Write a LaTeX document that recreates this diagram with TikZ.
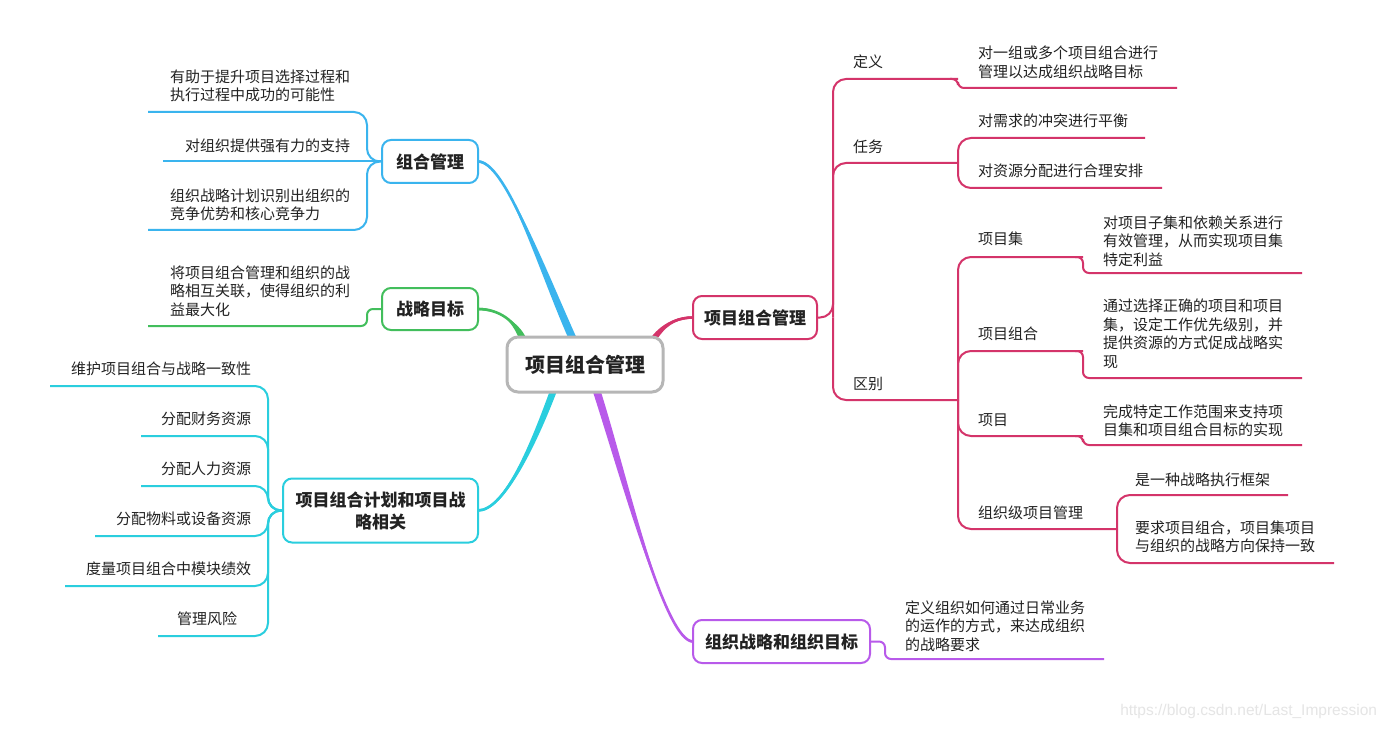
\documentclass[tikz,border=0pt]{standalone}
\usepackage{fontspec}
\setmainfont{Noto Sans CJK SC}
\newfontfamily\wmfont{Liberation Sans}
\usetikzlibrary{calc,backgrounds}
\definecolor{cblue}{RGB}{58,180,238}
\definecolor{cgreen}{RGB}{66,190,92}
\definecolor{ccyan}{RGB}{42,206,222}
\definecolor{cpurple}{RGB}{184,90,234}
\definecolor{cred}{RGB}{212,52,106}
\definecolor{cgray}{RGB}{182,182,182}
\definecolor{ctext}{RGB}{34,34,34}
\newcommand\taper[6]{%
\fill[#1] ($(#2)+(-#6,0)$) .. controls ($(#3)+(-#6*0.9,0)$) and ($(#4)+(0,-1.6)$) .. ($(#5)+(0,-1.2)$) -- ($(#5)+(0,1.2)$) .. controls ($(#4)+(0,1.6)$) and ($(#3)+(#6*0.9,0)$) .. ($(#2)+(#6,0)$) -- cycle;
\draw[#1, line width=2.6pt] (#2) .. controls (#3) and (#4) .. (#5);}
\begin{document}
\begin{tikzpicture}[x=1pt,y=-1pt,
 every node/.style={inner sep=0pt, outer sep=0pt},
 topic/.style={draw, line width=2pt, rounded corners=9pt, fill=white, text=ctext, font=\fontsize{17}{22}\selectfont\bfseries, align=center},
 leaf/.style={font=\fontsize{15}{18.5}\selectfont, align=left, text=ctext},
 lf/.style={line width=2pt, rounded corners=13pt},
 jog/.style={line width=2pt, rounded corners=6pt},
]
\useasboundingbox (0,0) rectangle (1384,730);

% central and main topics
\node[topic, draw=cgray, line width=3pt, rounded corners=11pt, minimum width=156pt, minimum height=55pt, font=\fontsize{20}{24}\selectfont\bfseries] (c) at (585,364.5) {项目组合管理};
\node[topic, draw=cblue, minimum width=96pt, minimum height=43pt] (zh) at (430,161.5) {组合管理};
\node[topic, draw=cgreen, minimum width=96pt, minimum height=42pt] (zl) at (430,309) {战略目标};
\node[topic, draw=ccyan, minimum width=195pt, minimum height=64pt] (zx) at (380.5,510.5) {项目组合计划和项目战\\略相关};
\node[topic, draw=cred, minimum width=124pt, minimum height=43pt] (xm) at (755,317.5) {项目组合管理};
\node[topic, draw=cpurple, minimum width=177pt, minimum height=43pt] (zo) at (781.5,641.5) {组织战略和组织目标};

% leaf texts, left
\node[leaf, anchor=east] (a1t) at (350,86) {有助于提升项目选择过程和\\执行过程中成功的可能性};
\node[leaf, anchor=east] (a2t) at (350,146) {对组织提供强有力的支持};
\node[leaf, anchor=east] (a3t) at (350,205) {组织战略计划识别出组织的\\竞争优势和核心竞争力};
\node[leaf, anchor=east] (b1t) at (350,291) {将项目组合管理和组织的战\\略相互关联，使得组织的利\\益最大化};
\node[leaf, anchor=east] (c1t) at (251,369) {维护项目组合与战略一致性};
\node[leaf, anchor=east] (c2t) at (251,419) {分配财务资源};
\node[leaf, anchor=east] (c3t) at (251,469) {分配人力资源};
\node[leaf, anchor=east] (c4t) at (251,519) {分配物料或设备资源};
\node[leaf, anchor=east] (c5t) at (251,569) {度量项目组合中模块绩效};
\node[leaf, anchor=east] (c6t) at (237,619) {管理风险};

% leaf texts, right
\node[leaf, anchor=west] (t1t) at (853,62) {定义};
\node[leaf, anchor=west] (t2t) at (853,147) {任务};
\node[leaf, anchor=west] (t3t) at (853,384) {区别};
\node[leaf, anchor=west] (t1c) at (978,62.5) {对一组或多个项目组合进行\\管理以达成组织战略目标};
\node[leaf, anchor=west] (t2a) at (978,121) {对需求的冲突进行平衡};
\node[leaf, anchor=west] (t2b) at (978,171) {对资源分配进行合理安排};
\node[leaf, anchor=west] (u1t) at (978,239) {项目集};
\node[leaf, anchor=west] (u2t) at (978,334) {项目组合};
\node[leaf, anchor=west] (u3t) at (978,420) {项目};
\node[leaf, anchor=west] (u4t) at (978,513) {组织级项目管理};
\node[leaf, anchor=west] (u1c) at (1103,241) {对项目子集和依赖关系进行\\有效管理，从而实现项目集\\特定利益};
\node[leaf, anchor=west] (u2c) at (1103,334) {通过选择正确的项目和项目\\集，设定工作优先级别，并\\提供资源的方式促成战略实\\现};
\node[leaf, anchor=west] (u3c) at (1103,421) {完成特定工作范围来支持项\\目集和项目组合目标的实现};
\node[leaf, anchor=west] (u4a) at (1135,480) {是一种战略执行框架};
\node[leaf, anchor=west] (u4b) at (1135,537) {要求项目组合，项目集项目\\与组织的战略方向保持一致};
\node[leaf, anchor=west] (p1t) at (905,626) {定义组织如何通过日常业务\\的运作的方式，来达成组织\\的战略要求};

\node[font=\wmfont\fontsize{15.5}{18}\selectfont, text=black!10, anchor=east] (wm) at (1377,711) {https://blog.csdn.net/Last\_Impression};

% coordinates
\coordinate (cb) at ($(c.north)+(-13,0)$);
\coordinate (cg) at ($(c.north)+(-63,0)$);
\coordinate (cc) at ($(c.south)+(-32,0)$);
\coordinate (cp) at ($(c.south)+(12,0)$);
\coordinate (cr) at ($(c.north)+(70,0)$);
\coordinate (a1) at (148,112);
\coordinate (a2) at (163,161.5);
\coordinate (a3) at (148,230);
\coordinate (b1) at (148,326);
\coordinate (c1) at (50,386);
\coordinate (c2) at (141,436);
\coordinate (c3) at (141,486);
\coordinate (c4) at (95,536);
\coordinate (c5) at (65,586);
\coordinate (c6) at (158,636);
\coordinate (rb) at (833,317.5);
\coordinate (t1) at (958,79);
\coordinate (t1e) at (1177,88);
\coordinate (t2) at (958,163);
\coordinate (t2ae) at (1145,138);
\coordinate (t2be) at (1162,188);
\coordinate (t3) at (958,400);
\coordinate (u1) at (1083,257);
\coordinate (u1e) at (1302,273);
\coordinate (u2) at (1083,351);
\coordinate (u2e) at (1302,378);
\coordinate (u3) at (1083,436);
\coordinate (u3e) at (1302,445);
\coordinate (u4) at (1117,529);
\coordinate (u4ae) at (1288,495);
\coordinate (u4be) at (1334,563);
\coordinate (p1) at (885,641.5);
\coordinate (p1e) at (1104,659);

\begin{pgfonlayer}{background}
\fill[white] (0,0) rectangle (1384,730);
% tapered main branches
\taper{cblue}{cb}{540,265}{505,161.5}{zh.east}{4.2}
\taper{cgreen}{cg}{515,322}{500,309}{zl.east}{3.6}
\taper{ccyan}{cc}{535,440}{505,510.5}{zx.east}{3.6}
\taper{cpurple}{cp}{625,480}{665,641.5}{zo.west}{4}
\taper{cred}{cr}{666,322}{680,317.5}{xm.west}{3.6}

% blue leaves
\draw[lf,cblue] (zh.west) -- ++(-15,0) |- (a1);
\draw[lf,cblue] (zh.west) -- (a2);
\draw[lf,cblue] (zh.west) -- ++(-15,0) |- (a3);
% green leaf
\draw[jog,cgreen] (zl.west) -- ++(-15,0) |- (b1);
% cyan leaves
\foreach \p in {c1,c2,c3,c4,c5,c6}{
  \draw[lf,ccyan] (zx.west) -- ++(-15,0) |- (\p);
}
% right (red)
\draw[lf,cred] (xm.east) -- (rb) |- (t1);
\draw[jog,cred] ($(t1)+(-8,0)$) -- (t1) -- ++(0,9) -- (t1e);
\draw[lf,cred] (rb) |- (t2);
\draw[lf,cred] (t2) |- (t2ae);
\draw[lf,cred] (t2) |- (t2be);
\draw[lf,cred] (rb) |- (t3);
\draw[lf,cred] (t3) |- (u1);
\draw[jog,cred] ($(u1)+(-8,0)$) -- (u1) -- ++(0,16) -- (u1e);
\draw[lf,cred] (t3) |- (u2);
\draw[jog,cred] ($(u2)+(-8,0)$) -- (u2) -- ++(0,27) -- (u2e);
\draw[lf,cred] (t3) |- (u3);
\draw[jog,cred] ($(u3)+(-8,0)$) -- (u3) -- ++(0,9) -- (u3e);
\draw[lf,cred] (t3) |- (u4);
\draw[lf,cred] (u4) |- (u4ae);
\draw[lf,cred] (u4) |- (u4be);
% purple
\draw[jog,cpurple] (zo.east) -- (p1) -- ++(0,17.5) -- (p1e);
\end{pgfonlayer}
\end{tikzpicture}
\end{document}
